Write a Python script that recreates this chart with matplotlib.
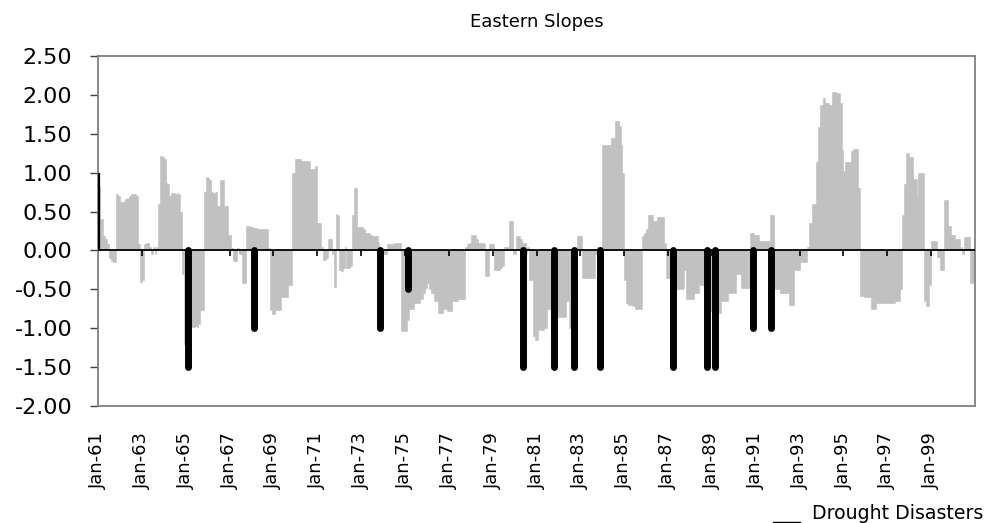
import matplotlib
matplotlib.use("Agg")
import matplotlib.pyplot as plt
import numpy as np
from matplotlib.lines import Line2D

# monthly drought index, Eastern Slopes, Jan-61 .. Dec-00
index_1960s = [
    0.82, 0.41, 0.40, 0.19, 0.15, 0.08, -0.10, -0.14, -0.15, -0.15, 0.72, 0.70,
    0.62, 0.62, 0.64, 0.66, 0.68, 0.70, 0.72, 0.72, 0.72, 0.70, 0.08, -0.40,
    -0.38, 0.08, 0.10, 0.09, 0.05, -0.05, 0.04, -0.05, 0.05, 0.60, 1.21, 1.20,
    1.18, 0.87, 0.86, 0.70, 0.74, 0.74, 0.73, 0.74, 0.72, 0.50, -0.30, -1.20,
    -1.22, -1.22, -1.00, -0.98, -0.98, -0.97, -0.98, -0.95, -0.76, -0.76, 0.75, 0.95,
    0.93, 0.90, 0.75, 0.74, 0.75, 0.57, 0.57, 0.91, 0.90, 0.57, 0.57, 0.20,
    0.20, 0.03, -0.13, -0.13, 0.03, -0.05, -0.05, -0.42, -0.42, 0.31, 0.31, 0.30,
    0.30, 0.29, 0.29, 0.28, 0.28, 0.28, 0.27, 0.28, 0.27, 0.03, -0.76, -0.82,
    -0.82, -0.76, -0.76, -0.76, -0.60, -0.60, -0.60, -0.60, -0.45, -0.45, 1.00, 1.00,
    1.18, 1.18, 1.18, 1.15, 1.15, 1.15, 1.15, 1.15, 1.05, 1.05, 1.05, 1.08,
]
index_1970s = [
    0.35, 0.35, 0.05, -0.12, -0.12, -0.10, 0.15, 0.15, -0.05, -0.47, 0.47, 0.45,
    -0.25, -0.27, -0.22, 0.05, -0.22, -0.22, -0.20, 0.45, 0.80, 0.80, 0.30, 0.30,
    0.30, 0.28, 0.22, 0.22, 0.22, 0.20, 0.18, 0.18, 0.18, 0.10, -0.38, -0.38,
    -0.05, -0.05, 0.08, 0.08, 0.08, 0.08, 0.10, 0.10, 0.10, 0.10, -1.03, -1.03,
    -1.03, -0.90, -0.75, -0.75, -0.75, -0.68, -0.68, -0.68, -0.62, -0.62, -0.55, -0.48,
    -0.42, -0.50, -0.55, -0.55, -0.65, -0.65, -0.80, -0.80, -0.80, -0.75, -0.75, -0.78,
    -0.78, -0.78, -0.65, -0.65, -0.65, -0.62, -0.62, -0.62, -0.62, 0.05, 0.08, 0.10,
    0.20, 0.20, 0.20, 0.15, 0.10, 0.10, 0.10, 0.08, -0.33, -0.33, 0.08, 0.08,
    0.08, -0.25, -0.25, -0.25, -0.22, -0.20, 0.05, 0.05, 0.05, 0.38, 0.38, -0.05,
    -0.05, 0.18, 0.18, 0.15, 0.10, 0.10, -0.05, 0.05, -0.38, -0.38, -1.10, -1.15,
]
index_1980s = [
    -1.15, -1.02, -1.02, -1.02, -1.00, -1.00, -0.75, -0.75, -0.75, -0.78, -0.78, -0.78,
    -0.85, -0.85, -0.85, -0.85, -0.65, -0.65, -1.00, -1.00, -0.55, -0.55, 0.18, 0.18,
    0.18, -0.36, -0.36, -0.36, -0.36, -0.36, -0.36, -0.36, -0.05, 0.05, 0.05, 0.05,
    1.35, 1.35, 1.35, 1.35, 1.35, 1.45, 1.45, 1.67, 1.67, 1.60, 1.35, 1.00,
    -0.38, -0.68, -0.70, -0.70, -0.70, -0.72, -0.75, -0.75, -0.75, -0.75, 0.18, 0.22,
    0.28, 0.45, 0.45, 0.45, 0.38, 0.38, 0.43, 0.43, 0.43, 0.43, 0.10, -0.35,
    -0.35, -0.35, -0.50, -0.50, -0.50, -0.50, -0.50, -0.50, -0.48, -0.25, -0.62, -0.62,
    -0.62, -0.62, -0.55, -0.55, -0.55, -0.45, -0.45, -0.45, -0.60, -0.70, -0.78, -0.78,
    -0.78, -0.70, -0.80, -0.80, -0.80, -0.65, -0.65, -0.65, -0.65, -0.55, -0.55, -0.55,
    -0.55, -0.30, -0.30, -0.30, -0.48, -0.48, -0.48, -0.48, -0.48, 0.22, 0.22, 0.20,
]
index_1990s = [
    0.20, 0.20, 0.12, 0.12, 0.12, 0.12, 0.12, 0.12, 0.45, 0.45, -0.50, -0.50,
    -0.50, -0.55, -0.55, -0.55, -0.55, -0.55, -0.70, -0.70, -0.70, -0.25, -0.25, -0.25,
    -0.15, -0.15, -0.15, -0.15, 0.05, 0.35, 0.35, 0.60, 0.60, 1.14, 1.59, 1.87,
    1.87, 1.96, 1.89, 1.89, 1.87, 1.87, 2.04, 2.04, 2.03, 2.03, 1.89, 1.29,
    1.02, 1.14, 1.14, 1.14, 1.28, 1.31, 1.31, 1.31, 0.80, -0.58, -0.58, -0.60,
    -0.60, -0.60, -0.60, -0.75, -0.75, -0.75, -0.68, -0.68, -0.68, -0.68, -0.68, -0.68,
    -0.68, -0.68, -0.68, -0.68, -0.65, -0.65, -0.65, -0.50, 0.45, 0.85, 1.25, 1.25,
    1.20, 1.20, 0.92, 0.92, 0.70, 1.00, 1.00, 1.00, -0.65, -0.72, -0.72, -0.45,
    0.12, 0.12, 0.12, -0.08, -0.08, -0.25, -0.25, 0.65, 0.65, 0.32, 0.32, 0.20,
    0.20, 0.15, 0.15, 0.15, 0.05, -0.05, 0.17, 0.17, 0.17, -0.42, -0.42, -0.40,
]

# drought disasters (the Jan-61 entry is the thin marker on the left edge)
drought_dates = ["Feb-65", "Feb-68", "Nov-73", "Feb-75", "May-80", "Oct-81", "Sep-82",
                 "Nov-83", "Mar-87", "Oct-88", "Feb-89", "Nov-90", "Sep-91"]
drought_values = [-1.5, -1.0, -1.0, -0.5, -1.5, -1.5, -1.5, -1.5, -1.5, -1.5, -1.5, -1.0, -1.0]
edge_marker_value = 1.0

month_names = ["Jan", "Feb", "Mar", "Apr", "May", "Jun",
               "Jul", "Aug", "Sep", "Oct", "Nov", "Dec"]
first_year = 61

values = index_1960s + index_1970s + index_1980s + index_1990s


def month_index(label):
    mon, yy = label.split("-")
    return (int(yy) - first_year) * 12 + month_names.index(mon)


plt.rcParams['font.family'] = ['DejaVu Sans']

fig = plt.figure(figsize=(9.87, 5.23), dpi=100)
ax = fig.add_axes([98 / 987, 117 / 523, 877 / 987, 350 / 523])

x = np.arange(len(values))
ax.bar(x, values, width=1.0, align='edge', color='#c0c0c0',
       edgecolor='#c0c0c0', linewidth=0.4, zorder=2)

d_x = np.array([month_index(d) for d in drought_dates]) + 0.5
lc = ax.vlines(d_x, 0, drought_values, colors='black', linewidth=5, zorder=4)
lc.set_capstyle('round')
ax.vlines(0.3, 0, edge_marker_value, colors='black', linewidth=1.6, zorder=5)

ax.set_xlim(0, len(values))
ax.set_ylim(-2.0, 2.5)

tick_pos = np.arange(0, len(values), 24)
tick_lab = ["Jan-%02d" % ((first_year + i // 12) % 100) for i in tick_pos]
ax.set_xticks(tick_pos)
ax.set_xticklabels(tick_lab, rotation=90, fontsize=12.9)
ax.tick_params(axis='x', length=0, pad=19)

yt = np.arange(-2.0, 2.51, 0.5)
ax.set_yticks(yt)
ax.set_yticklabels(["%.2f" % v for v in yt], fontsize=16)
ax.tick_params(axis='y', length=6, width=1, color='#404040', pad=12.5)

for s in ax.spines.values():
    s.set_color('#808080')
    s.set_linewidth(1.3)

# category axis crossing at zero, with its tick marks pointing down
ax.axhline(0, color='black', lw=1.3, zorder=3)
ax.vlines(tick_pos[1:], 0, -0.07, colors='black', linewidth=1.2, zorder=3)

fig.text(0.544, 1 - 22 / 523, "Eastern Slopes", ha='center', va='center', fontsize=13)

fig.add_artist(Line2D([773 / 987, 800 / 987], [1.5 / 523, 1.5 / 523], color='black', lw=1))
fig.text(812 / 987, 4 / 523, "Drought Disasters", ha='left', va='baseline', fontsize=13.6)

fig.savefig("out.png", dpi=100)
